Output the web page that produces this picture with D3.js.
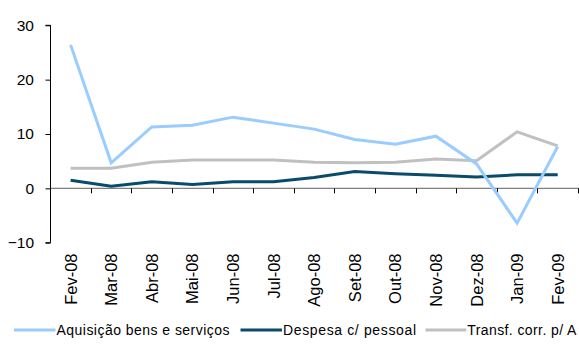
<!DOCTYPE html>
<html><head><meta charset="utf-8">
<script src="https://cdn.jsdelivr.net/npm/d3@7"></script>
<style>body{margin:0;background:#fff;}svg{display:block;font-family:"Liberation Sans",Arial,sans-serif;}</style>
</head><body>
<svg id="c" width="579" height="347"></svg>
<script>
const categories = ["Fev-08","Mar-08","Abr-08","Mai-08","Jun-08","Jul-08","Ago-08","Set-08","Out-08","Nov-08","Dez-08","Jan-09","Fev-09"];
const aquisicao = [26.4, 4.7, 11.3, 11.6, 13.1, 12.0, 10.9, 9.0, 8.1, 9.6, 4.5, -6.4, 7.7];
const despesa = [1.5, 0.4, 1.2, 0.7, 1.2, 1.2, 2.0, 3.1, 2.7, 2.4, 2.1, 2.5, 2.5];
const transf = [3.7, 3.7, 4.8, 5.2, 5.2, 5.2, 4.8, 4.7, 4.8, 5.4, 5.1, 10.4, 7.8];
const yTicks = [-10, 0, 10, 20, 30];
const seriesNames = ["Aquisição bens e serviços", "Despesa c/ pessoal", "Transf. corr. p/ A"];
const colors = ["#99CCFF", "#0A4A6A", "#C0C0C0"];

const svg = d3.select("#c");
const x = d3.scaleBand().domain(categories).range([50.3, 578]);
const y = d3.scaleLinear().domain([-10, 30]).range([242.7, 25.3]);

// zero line
svg.append("line").attr("x1", 50.3).attr("x2", 579).attr("y1", y(0)).attr("y2", y(0))
  .attr("stroke", "#808080").attr("stroke-width", 1.3);
// x ticks
const xt = categories.map((c, i) => x.range()[0] + i * x.bandwidth()).concat([578]);
svg.selectAll(".xt").data(xt.slice(1)).enter().append("line")
  .attr("x1", d => Math.round(d) + 0.5).attr("x2", d => Math.round(d) + 0.5)
  .attr("y1", y(0)).attr("y2", y(0) + 5).attr("stroke", "#000").attr("stroke-width", 1);

// y axis
const yAxis = d3.axisLeft(y).tickValues(yTicks).tickSize(5).tickPadding(11.5).tickFormat(d3.format("d"));
const ga = svg.append("g").attr("transform", "translate(50.5,0)").call(yAxis);
ga.select(".domain").attr("stroke", "#000").attr("d", "M-5," + y(30) + "H0V" + y(-10) + "H-5");
ga.selectAll(".tick line").attr("stroke", "#000");
ga.selectAll(".tick text").attr("font-size", 15.5).attr("fill", "#000")
  .attr("font-family", "'Liberation Sans',Arial,sans-serif");

// x labels
svg.selectAll(".xl").data(categories).enter().append("text")
  .attr("transform", d => `translate(${x(d) + x.bandwidth() / 2 + 6},253.5) rotate(-90)`)
  .attr("text-anchor", "end").attr("font-size", 16.5).attr("fill", "#000").text(d => d);

// lines
const line = d3.line().x((d, i) => x(categories[i]) + x.bandwidth() / 2).y(d => y(d));
[transf, despesa, aquisicao].forEach((s) => {
  const k = [aquisicao, despesa, transf].indexOf(s);
  svg.append("path").datum(s).attr("d", line).attr("fill", "none")
    .attr("stroke", colors[k]).attr("stroke-width", 3).attr("stroke-linejoin", "miter");
});

// legend
const lg = [[14, 56.5, 173], [240.5, 283, 133], [425.5, 467.3, 109]];
seriesNames.forEach((n, k) => {
  svg.append("line").attr("x1", lg[k][0]).attr("x2", lg[k][1] - 1).attr("y1", 330).attr("y2", 330)
    .attr("stroke", colors[k]).attr("stroke-width", 3);
  svg.append("text").attr("x", lg[k][1]).attr("y", 335).attr("font-size", 14)
    .attr("textLength", lg[k][2]).attr("lengthAdjust", "spacing")
    .attr("fill", "#000").text(n);
});
</script>
</body></html>
